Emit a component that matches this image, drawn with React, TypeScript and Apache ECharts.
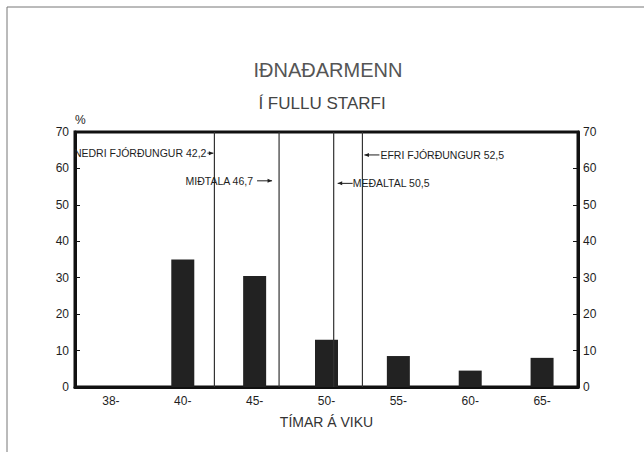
import React, { useEffect, useRef } from "react";
import * as echarts from "echarts";

const categories = ["38-", "40-", "45-", "50-", "55-", "60-", "65-"];
const shares = [0, 35, 30.5, 13, 8.5, 4.5, 8];
const yTicks = { min: 0, max: 70, interval: 10 };
const markerValues = [42.2, 46.7, 50.5, 52.5];
const markerLabels = [
  "NEDRI FJÓRÐUNGUR 42,2",
  "MIÐTALA 46,7",
  "MEÐALTAL 50,5",
  "EFRI FJÓRÐUNGUR 52,5",
];
const titleText = "IÐNAÐARMENN";
const subtitleText = "Í FULLU STARFI";
// hour axis aligned to category centres: 40- centre = 40 h, 5 h per category
const hourAxis = { min: 32.5, max: 67.5 };

// annotation layout (side: -1 left of line, 1 right of line)
const markerLayout = [
  { side: -1, level: 64.2, near: 1, far: 7, gap: 8 },
  { side: -1, level: 56.6, near: 7, far: 22, gap: 26 },
  { side: 1, level: 55.9, near: 4, far: 19, gap: 19 },
  { side: 1, level: 63.7, near: 2, far: 17, gap: 18 },
];

const FONT = "'Liberation Sans', Arial, sans-serif";
const INK = "#1e1e1e";

export default function App() {
  const ref = useRef<HTMLDivElement>(null);
  useEffect(() => {
    if (!ref.current) return;
    const chart = echarts.init(ref.current, undefined, { renderer: "svg" });
    chart.setOption({
      animation: false,
      backgroundColor: "#ffffff",
      textStyle: { fontFamily: FONT },
      graphic: [
        { type: "line", shape: { x1: 7, y1: 7, x2: 7, y2: 452 }, style: { stroke: "#777", lineWidth: 1 } },
        { type: "line", shape: { x1: 7, y1: 7, x2: 644, y2: 7 }, style: { stroke: "#777", lineWidth: 1 } },
        {
          type: "text",
          x: 328,
          y: 70,
          style: {
            text: titleText,
            fontSize: 20,
            fontFamily: FONT,
            fill: "#555",
            align: "center",
            verticalAlign: "middle",
          },
        },
        {
          type: "text",
          x: 322,
          y: 103,
          style: {
            text: subtitleText,
            fontSize: 17,
            fontFamily: FONT,
            fill: "#444",
            align: "center",
            verticalAlign: "middle",
          },
        },
      ],
      grid: {
        left: 75,
        right: 66,
        top: 132,
        bottom: 65,
        show: true,
        borderColor: "#111",
        borderWidth: 3,
        backgroundColor: "transparent",
      },
      xAxis: [
        {
          type: "category",
          data: categories,
          axisLine: { show: true, lineStyle: { color: "#111", width: 3 } },
          axisTick: { show: false },
          axisLabel: { fontSize: 12, color: INK, margin: 8, fontFamily: FONT },
          name: "TÍMAR Á VIKU",
          nameLocation: "middle",
          nameGap: 28,
          nameTextStyle: { fontSize: 14, color: "#333", fontFamily: FONT },
          splitLine: { show: false },
        },
        {
          type: "value",
          min: hourAxis.min,
          max: hourAxis.max,
          show: false,
          position: "bottom",
        },
      ],
      yAxis: [
        {
          type: "value",
          min: yTicks.min,
          max: yTicks.max,
          interval: yTicks.interval,
          position: "left",
          name: "%",
          nameLocation: "end",
          nameGap: 6,
          nameTextStyle: { fontSize: 12, color: INK, align: "left", fontFamily: FONT },
          axisLine: { show: true, lineStyle: { color: "#111", width: 3 } },
          axisTick: { show: true, inside: true, length: 5, lineStyle: { color: "#111" } },
          axisLabel: { fontSize: 12, color: INK, margin: 6, fontFamily: FONT },
          splitLine: { show: false },
        },
        {
          type: "value",
          min: yTicks.min,
          max: yTicks.max,
          interval: yTicks.interval,
          position: "right",
          axisLine: { show: true, lineStyle: { color: "#111", width: 3 } },
          axisTick: { show: true, inside: true, length: 5, lineStyle: { color: "#111" } },
          axisLabel: { fontSize: 12, color: INK, margin: 5, fontFamily: FONT },
          splitLine: { show: false },
        },
      ],
      series: [
        {
          type: "bar",
          xAxisIndex: 0,
          yAxisIndex: 0,
          data: shares,
          barWidth: 23,
          itemStyle: { color: "#222" },
          z: 2,
        },
        {
          type: "custom",
          xAxisIndex: 1,
          yAxisIndex: 0,
          clip: false,
          z: 3,
          data: markerValues.map((v) => [v, 0]),
          encode: { x: 0, y: 1 },
          renderItem: (params: any, api: any) => {
            const i = params.dataIndex;
            const v = api.value(0);
            const lay = markerLayout[i];
            const top = api.coord([v, yTicks.max]);
            const bot = api.coord([v, yTicks.min]);
            const lx = top[0];
            const ly = api.coord([v, lay.level])[1];
            const tip = lx + lay.side * lay.near;
            const tail = lx + lay.side * lay.far;
            const hb = tip + lay.side * 4.5;
            return {
              type: "group",
              children: [
                {
                  type: "line",
                  shape: { x1: lx, y1: top[1], x2: bot[0], y2: bot[1] },
                  style: { stroke: "#333", lineWidth: 1.2 },
                },
                {
                  type: "line",
                  shape: { x1: tail, y1: ly, x2: tip, y2: ly },
                  style: { stroke: INK, lineWidth: 1 },
                },
                {
                  type: "polygon",
                  shape: { points: [[tip, ly], [hb, ly - 2], [hb, ly + 2]] },
                  style: { fill: INK },
                },
                {
                  type: "text",
                  style: {
                    text: markerLabels[i],
                    x: lx + lay.side * lay.gap,
                    y: ly,
                    fill: INK,
                    fontSize: 10.5,
                    fontFamily: FONT,
                    align: lay.side < 0 ? "right" : "left",
                    verticalAlign: "middle",
                  },
                },
              ],
            };
          },
        },
      ],
    });
    return () => chart.dispose();
  }, []);
  return (
    <div
      ref={ref}
      style={{ position: "absolute", left: 0, top: 0, width: 644, height: 452 }}
    />
  );
}
